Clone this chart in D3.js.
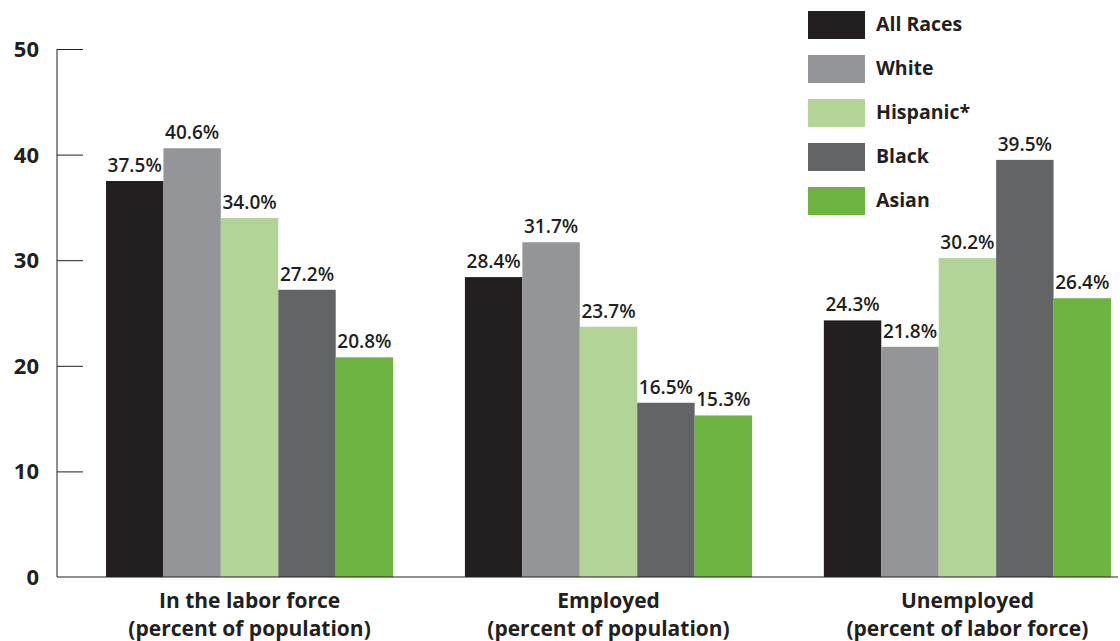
<!DOCTYPE html>
<html>
<head>
<meta charset="utf-8">
<script src="https://cdn.jsdelivr.net/npm/d3@7"></script>
<style>
  body { margin: 0; background: #fff; }
  text { font-family: "Open Sans", Roboto, sans-serif; fill: #231f20; }
</style>
</head>
<body>
<div id="chart-container"></div>
<script>
var groups = ['In the labor force|(percent of population)', 'Employed|(percent of population)', 'Unemployed|(percent of labor force)'];
var races = ['All Races', 'White', 'Hispanic*', 'Black', 'Asian'];
var colors = ['#231f20', '#939598', '#b2d597', '#636466', '#6cb33f'];
var allRaces = [37.5, 28.4, 24.3];
var white = [40.6, 31.7, 21.8];
var hispanic = [34.0, 23.7, 30.2];
var black = [27.2, 16.5, 39.5];
var asian = [20.8, 15.3, 26.4];
var yTicks = [0, 10, 20, 30, 40, 50];

var series = [allRaces, white, hispanic, black, asian];

var svgWidth = 1120,
    svgHeight = 641,
    svg = d3.select('#chart-container').append('svg').attr('width', svgWidth).attr('height', svgHeight);

var x0 = d3.scaleBand().domain(groups).range([106, 1111]).paddingInner(0.2).paddingOuter(0);
var x1 = d3.scaleBand().domain(races).range([0, x0.bandwidth()]);
var y = d3.scaleLinear().domain([0, 50]).range([577, 49]);

// y axis
var yAxis = svg.append('g').attr('transform', 'translate(57,0)')
  .call(d3.axisRight(y).tickValues(yTicks).tickSize(26).tickFormat(''));
yAxis.select('.domain').attr('d', 'M0,' + y(50) + 'V' + y(0)).attr('stroke', '#231f20');
yAxis.selectAll('.tick line').attr('stroke', '#231f20');
yAxis.selectAll('.tick').filter(function(d) { return d === 0; }).remove();

svg.append('g').selectAll('text').data(yTicks).enter().append('text')
  .attr('x', 39)
  .attr('y', function(d) { return y(d); })
  .attr('dy', '0.36em')
  .attr('text-anchor', 'end')
  .style('font-size', '22px')
  .style('font-weight', 'bold')
  .text(function(d) { return d; });

// bars
var g = svg.append('g');
groups.forEach(function(grp, gi) {
  races.forEach(function(r, ri) {
    var v = series[ri][gi];
    var bx = x0(grp) + x1(r);
    g.append('rect')
      .attr('x', bx)
      .attr('y', y(v))
      .attr('width', x1.bandwidth())
      .attr('height', y(0) - y(v))
      .attr('fill', colors[ri]);
    g.append('text')
      .attr('x', bx + x1.bandwidth() / 2)
      .attr('y', y(v) - 9)
      .attr('text-anchor', 'middle')
      .style('font-size', '19px')
      .style('font-weight', '600')
      .text(v.toFixed(1) + '%');
  });
});

// baseline
svg.append('line')
  .attr('x1', 57).attr('x2', 1118)
  .attr('y1', y(0)).attr('y2', y(0))
  .attr('stroke', '#231f20').attr('stroke-width', 1);

// category labels
groups.forEach(function(grp) {
  var parts = grp.split('|');
  var t = svg.append('text')
    .attr('x', x0(grp) + x0.bandwidth() / 2)
    .attr('y', 608)
    .attr('text-anchor', 'middle')
    .style('font-size', '21px')
    .style('font-weight', 'bold');
  parts.forEach(function(p, i) {
    t.append('tspan')
      .attr('x', x0(grp) + x0.bandwidth() / 2)
      .attr('dy', i === 0 ? 0 : 28)
      .text(p);
  });
});

// legend
var legend = svg.append('g').attr('transform', 'translate(808,11)');
races.forEach(function(r, i) {
  legend.append('rect')
    .attr('x', 0).attr('y', i * 44)
    .attr('width', 57).attr('height', 28)
    .attr('fill', colors[i]);
  legend.append('text')
    .attr('x', 68).attr('y', i * 44 + 13)
    .attr('dy', '0.36em')
    .style('font-size', '19.5px')
    .style('font-weight', 'bold')
    .text(r);
});
</script>
</body>
</html>
